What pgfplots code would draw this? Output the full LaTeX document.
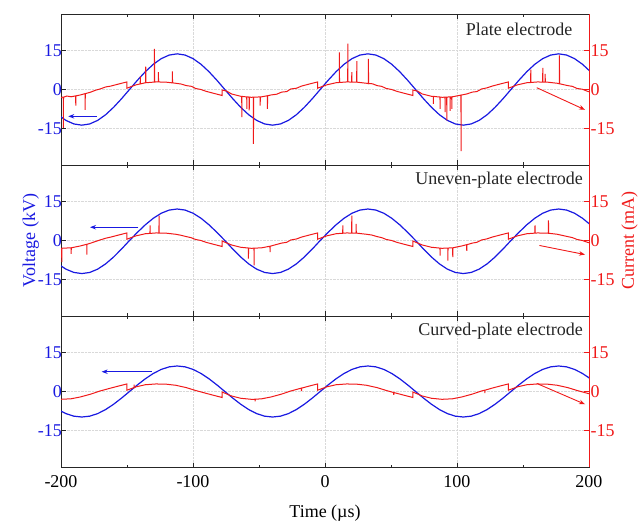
\documentclass[border=0pt]{standalone}
\usepackage{fontspec}
\setmainfont{Liberation Serif}
\usepackage{pgfplots}
\pgfplotsset{compat=1.18}
\usepackage{pgfplotstable}
\usetikzlibrary{arrows.meta}

\definecolor{vblue}{RGB}{25,25,225}
\definecolor{ired}{RGB}{240,25,25}

% voltage (kV): t, plate, uneven-plate, curved-plate
\pgfplotstableread{
t v1 v2 v3
-202.31 -9.69 -8.98 -6.93
-196.29 -11.86 -11.00 -8.49
-190.27 -13.23 -12.27 -9.47
-184.25 -13.70 -12.70 -9.80
-178.23 -13.23 -12.27 -9.47
-172.21 -11.86 -11.00 -8.49
-166.19 -9.69 -8.98 -6.93
-160.17 -6.85 -6.35 -4.90
-154.15 -3.55 -3.29 -2.54
-148.13 0 0 0
-142.10 3.55 3.13 2.54
-136.08 6.85 6.05 4.90
-130.06 9.69 8.55 6.93
-124.04 11.86 10.48 8.49
-118.02 13.23 11.69 9.47
-112.00 13.70 12.10 9.80
-105.98 13.23 11.69 9.47
-99.96 11.86 10.48 8.49
-93.94 9.69 8.55 6.93
-87.92 6.85 6.05 4.90
-81.90 3.55 3.13 2.54
-75.88 0 0 0
-69.85 -3.55 -3.29 -2.54
-63.83 -6.85 -6.35 -4.90
-57.81 -9.69 -8.98 -6.93
-51.79 -11.86 -11.00 -8.49
-45.77 -13.23 -12.27 -9.47
-39.75 -13.70 -12.70 -9.80
-33.73 -13.23 -12.27 -9.47
-27.71 -11.86 -11.00 -8.49
-21.69 -9.69 -8.98 -6.93
-15.67 -6.85 -6.35 -4.90
-9.65 -3.55 -3.29 -2.54
-3.63 0 0 0
2.40 3.55 3.13 2.54
8.42 6.85 6.05 4.90
14.44 9.69 8.55 6.93
20.46 11.86 10.48 8.49
26.48 13.23 11.69 9.47
32.50 13.70 12.10 9.80
38.52 13.23 11.69 9.47
44.54 11.86 10.48 8.49
50.56 9.69 8.55 6.93
56.58 6.85 6.05 4.90
62.60 3.55 3.13 2.54
68.63 0 0 0
74.65 -3.55 -3.29 -2.54
80.67 -6.85 -6.35 -4.90
86.69 -9.69 -8.98 -6.93
92.71 -11.86 -11.00 -8.49
98.73 -13.23 -12.27 -9.47
104.75 -13.70 -12.70 -9.80
110.77 -13.23 -12.27 -9.47
116.79 -11.86 -11.00 -8.49
122.81 -9.69 -8.98 -6.93
128.83 -6.85 -6.35 -4.90
134.85 -3.55 -3.29 -2.54
140.88 0 0 0
146.90 3.55 3.13 2.54
152.92 6.85 6.05 4.90
158.94 9.69 8.55 6.93
164.96 11.86 10.48 8.49
170.98 13.23 11.69 9.47
177.00 13.70 12.10 9.80
183.02 13.23 11.69 9.47
189.04 11.86 10.48 8.49
195.06 9.69 8.55 6.93
201.08 6.85 6.05 4.90
}\volt

% current (mA), plate electrode
\pgfplotstableread{
t i
-208.4 -2.6
-200.4 -3.0
-198.3 -2.95
-198.2 -14.7
-198.1 -2.95
-195.5 -2.5
-192.4 -2.8
-188.9 -2.45
-188.8 -6.2
-188.7 -2.45
-185.4 -2.1
-181.8 -1.6
-181.7 -7.8
-181.6 -1.6
-177.4 -1.0
-174.0 -0.3
-170.4 0.2
-166.0 1.0
-162.4 1.3
-156.4 2.1
-150.1 2.9
-150.1 0.5
-143.1 1.8
-140.0 2.15
-139.9 5.0
-139.8 2.15
-136.1 2.6
-135.9 2.6
-135.8 8.8
-135.7 2.6
-129.3 2.85
-129.2 15.6
-129.1 2.85
-128.1 2.9
-126.3 2.9
-126.2 6.7
-126.1 2.9
-120.1 2.8
-115.7 2.55
-115.6 7.0
-115.5 2.55
-113.1 2.4
-109.0 2.1
-105.1 1.5
-101.0 1.2
-98.1 0.4
-94.0 0.0
-90.1 -0.7
-84.1 -1.5
-77.9 -2.3
-77.9 -0.2
-74.5 -0.6
-70.9 -1.7
-63.9 -2.6
-63.1 -2.65
-63.0 -10.6
-62.9 -2.65
-59.3 -2.85
-59.2 -7.4
-59.1 -2.85
-57.5 -2.9
-57.4 -8.0
-57.3 -2.9
-55.9 -3.0
-54.3 -2.95
-54.2 -20.9
-54.1 -2.95
-49.2 -2.85
-49.1 -6.2
-49.0 -2.85
-47.9 -2.8
-43.7 -2.4
-43.6 -7.4
-43.5 -2.4
-40.9 -2.1
-36.5 -1.8
-32.9 -1.0
-29.0 -0.8
-25.9 0.2
-21.5 0.5
-17.9 1.3
-11.9 2.1
-5.6 2.9
-5.6 0.5
1.4 1.8
8.4 2.6
10.8 2.7
10.9 14.3
11.0 2.7
16.4 2.9
17.2 2.9
17.3 17.6
17.4 2.9
20.2 2.85
20.3 6.7
20.4 2.85
24.0 2.8
24.1 10.9
24.2 2.8
24.4 2.8
31.4 2.4
32.8 2.25
32.9 11.8
33.0 2.25
36.0 2.2
39.4 1.5
43.0 1.2
46.4 0.4
50.5 0.0
54.4 -0.7
60.4 -1.5
66.6 -2.3
66.6 -0.2
70.0 -0.6
73.6 -1.7
80.6 -2.6
82.0 -2.65
82.1 -5.5
82.2 -2.65
87.1 -2.9
87.2 -7.4
87.3 -2.9
88.6 -3.0
90.9 -2.95
91.0 -8.7
91.1 -2.95
92.2 -2.9
92.3 -11.9
92.4 -2.9
94.7 -2.85
94.8 -8.2
94.9 -2.85
96.0 -2.8
96.1 -7.4
96.2 -2.8
96.6 -2.8
103.0 -2.15
103.1 -23.7
103.2 -2.15
103.6 -2.1
107.5 -1.7
111.6 -1.0
115.0 -0.8
118.6 0.2
122.5 0.6
126.6 1.3
132.6 2.1
138.9 2.9
138.9 0.5
145.9 1.8
152.9 2.6
155.8 2.7
155.9 7.6
156.0 2.7
160.9 2.9
164.9 2.85
165.0 8.3
165.1 2.85
166.7 2.85
166.8 6.0
166.9 2.85
168.9 2.8
175.9 2.4
177.5 2.2
177.6 13.1
177.7 2.2
183.9 1.5
187.5 1.2
190.9 0.4
195.0 0.1
198.9 -0.7
204.9 -1.5
}\curA

% current (mA), uneven-plate electrode
\pgfplotstableread{
t i
-208.4 -2.6
-200.4 -3.0
-199.5 -2.98
-199.4 -8.3
-199.3 -2.98
-192.4 -2.8
-192.3 -5.1
-192.2 -2.8
-185.4 -2.1
-180.5 -1.45
-180.4 -5.4
-180.3 -1.45
-177.4 -1.0
-174.0 -0.4
-170.4 0.2
-166.0 0.9
-162.4 1.3
-156.4 2.1
-150.1 2.9
-150.1 0.5
-143.1 1.8
-136.1 2.6
-132.6 2.73
-132.5 5.8
-132.4 2.73
-128.1 2.9
-125.8 2.87
-125.7 9.6
-125.6 2.87
-120.1 2.8
-113.1 2.4
-109.0 2.0
-105.1 1.5
-101.5 1.1
-98.1 0.4
-94.0 0.0
-90.1 -0.7
-84.1 -1.5
-77.9 -2.3
-77.9 -0.2
-70.9 -1.7
-63.9 -2.6
-58.1 -2.89
-58.0 -7.0
-57.9 -2.89
-55.9 -3.0
-53.8 -2.95
-53.7 -9.6
-53.6 -2.95
-47.9 -2.8
-41.7 -2.2
-41.6 -4.5
-41.5 -2.2
-40.9 -2.1
-32.9 -1.0
-29.0 -0.7
-25.9 0.2
-21.5 0.6
-17.9 1.3
-11.9 2.1
-5.6 2.9
-5.6 0.5
1.4 1.8
8.4 2.6
13.4 2.79
13.5 5.8
13.6 2.79
16.4 2.9
20.2 2.85
20.3 9.6
20.4 2.85
23.5 2.81
23.6 6.4
23.7 2.81
24.4 2.8
31.4 2.4
35.5 2.1
39.4 1.5
43.0 1.1
46.4 0.4
50.5 0.0
54.4 -0.7
60.4 -1.5
66.6 -2.3
66.6 -0.2
73.6 -1.7
80.6 -2.6
87.1 -2.92
87.2 -5.8
87.3 -2.92
88.6 -3.0
93.0 -2.9
93.1 -7.7
93.2 -2.9
96.6 -2.8
96.7 -2.8
96.8 -6.4
96.9 -2.8
103.6 -2.1
107.3 -1.6
107.4 -4.0
107.5 -1.6
111.6 -1.0
115.0 -0.7
118.6 0.2
122.5 0.6
126.6 1.3
132.6 2.1
138.9 2.9
138.9 0.5
145.9 1.8
152.9 2.6
159.0 2.83
159.1 5.8
159.2 2.83
160.9 2.9
168.9 2.8
169.2 2.78
169.3 7.7
169.4 2.78
175.9 2.4
183.9 1.5
187.5 1.1
190.9 0.4
195.0 0.0
198.9 -0.7
204.9 -1.5
}\curB

% current (mA), curved-plate electrode
\pgfplotstableread{
t i
-208.4 -2.6
-200.4 -3.0
-192.4 -2.8
-185.4 -2.1
-177.4 -1.0
-170.4 0.2
-162.4 1.3
-156.4 2.1
-150.1 2.9
-150.1 0.5
-144.7 1.5
-144.6 2.6
-144.5 1.5
-143.1 1.8
-136.1 2.6
-128.1 2.9
-120.1 2.8
-113.1 2.4
-105.1 1.5
-98.1 0.4
-90.1 -0.7
-84.1 -1.5
-77.9 -2.3
-77.9 -0.2
-70.9 -1.7
-63.9 -2.6
-55.9 -3.0
-53.0 -2.97
-52.9 -3.8
-52.8 -2.97
-47.9 -2.8
-40.9 -2.1
-32.9 -1.0
-25.9 0.2
-17.9 1.3
-17.8 0.2
-17.7 1.3
-11.9 2.1
-5.6 2.9
-5.6 0.5
1.4 1.8
8.4 2.6
16.4 2.9
24.4 2.8
31.4 2.4
39.4 1.5
46.4 0.4
52.0 -0.4
52.1 -1.3
52.2 -0.4
54.4 -0.7
60.4 -1.5
66.6 -2.3
66.6 -0.2
73.6 -1.7
80.6 -2.6
88.6 -3.0
96.6 -2.8
103.6 -2.1
111.6 -1.0
118.6 0.2
121.0 0.5
121.1 -0.6
121.2 0.5
126.6 1.3
132.6 2.1
138.9 2.9
138.9 0.5
145.9 1.8
152.9 2.6
160.9 2.9
168.9 2.8
175.9 2.4
183.9 1.5
190.9 0.4
198.9 -0.7
204.9 -1.5
}\curC

\pgfplotsset{
  panel/.style={
    scale only axis, width=528pt, height=151pt,
    xmin=-200, xmax=200, ymin=-29, ymax=29,
    font=\fontsize{18}{21}\selectfont,
    /pgf/number format/assume math mode=true,
    tick align=inside,
    major tick length=4.5pt, minor tick length=2.5pt,
  },
  vpanel/.style={panel,
    xtick={-200,-100,...,200}, minor xtick={-150,-50,50,150},
    xtick pos=both, ytick={-15,0,15}, ytick pos=left,
    yticklabel style={text=vblue, xshift=4.5pt},
    xticklabel style={yshift=-5pt},
    grid=major, major grid style={densely dotted, gray!30, line width=0.5pt},
    axis line style={line width=0.8pt, black!85},
    every tick/.style={line width=0.8pt, black!85},
  },
  ipanel/.style={panel,
    axis x line=none, axis y line*=right,
    ytick={-15,0,15},
    yticklabel style={text=ired, xshift=-2pt},
    axis line style={line width=0.8pt, ired, -},
    every tick/.style={line width=0.8pt, ired},
  },
  vline/.style={vblue, line width=1.2pt},
  iline/.style={ired, line width=1pt},
}

\newcommand{\ttl}[2]{\node[anchor=east, text=black!85, font=\fontsize{18}{21}\selectfont] at (rel axis cs:#1,0.9) {#2};}
\newcommand{\rspine}{\draw[ired, line width=0.9pt] (rel axis cs:1,0) -- (rel axis cs:1,1);}

\begin{document}
\begin{tikzpicture}

% plate electrode
\begin{axis}[vpanel, at={(61pt,358pt)}, anchor=south west, xticklabel=\empty]
\addplot[vline] table[x=t, y=v1] {\volt};
\ttl{0.975}{Plate electrode}
\end{axis}
\begin{axis}[ipanel, at={(61pt,358pt)}, anchor=south west]
\addplot[iline] table[x=t, y=i] {\curA};
\draw[vblue, line width=0.9pt, -{Stealth[length=6pt,width=4.5pt]}] (axis cs:-173,-10.3) -- (axis cs:-194.5,-10.3);
\draw[ired, line width=0.9pt, -{Stealth[length=6pt,width=4.5pt]}] (axis cs:160.4,0.7) -- (axis cs:197,-7.8);
\rspine
\end{axis}

% uneven-plate electrode
\begin{axis}[vpanel, at={(61pt,207pt)}, anchor=south west, xticklabel=\empty,
  ylabel={Voltage (kV)}, ylabel style={text=vblue}, ylabel shift=-8pt]
\addplot[vline] table[x=t, y=v2] {\volt};
\ttl{0.995}{Uneven-plate electrode}
\end{axis}
\begin{axis}[ipanel, at={(61pt,207pt)}, anchor=south west,
  ylabel={Current (mA)}, ylabel style={text=ired}]
\addplot[iline] table[x=t, y=i] {\curB};
\draw[vblue, line width=0.9pt, -{Stealth[length=6pt,width=4.5pt]}] (axis cs:-141.4,5.1) -- (axis cs:-178,5.1);
\draw[ired, line width=0.9pt, -{Stealth[length=6pt,width=4.5pt]}] (axis cs:162.4,-1.9) -- (axis cs:197,-5.4);
\rspine
\end{axis}

% curved-plate electrode
\begin{axis}[vpanel, at={(61pt,56pt)}, anchor=south west,
  xlabel={Time (µs)}, xlabel style={yshift=-10pt}]
\addplot[vline] table[x=t, y=v3] {\volt};
\ttl{0.995}{Curved-plate electrode}
\end{axis}
\begin{axis}[ipanel, at={(61pt,56pt)}, anchor=south west]
\addplot[iline] table[x=t, y=i] {\curC};
\draw[vblue, line width=0.9pt, -{Stealth[length=6pt,width=4.5pt]}] (axis cs:-131.3,7.6) -- (axis cs:-169.2,7.6);
\draw[ired, line width=0.9pt, -{Stealth[length=6pt,width=4.5pt]}] (axis cs:160.4,3.1) -- (axis cs:197,-4.9);
\rspine
\end{axis}

\pgfresetboundingbox
\path (0,0) rectangle (641pt,523pt);
\end{tikzpicture}
\end{document}
